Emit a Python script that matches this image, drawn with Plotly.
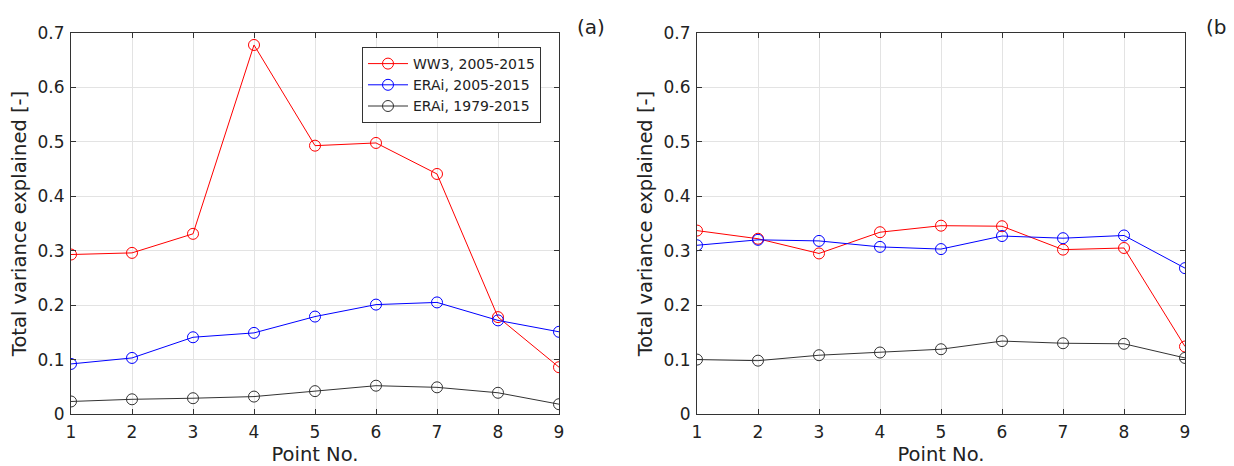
import plotly.graph_objects as go

points = [1, 2, 3, 4, 5, 6, 7, 8, 9]
series_names = ["WW3, 2005-2015", "ERAi, 2005-2015", "ERAi, 1979-2015"]
series_colors = ["#ff0000", "#0000ff", "#333333"]

a_ww3 = [0.293, 0.296, 0.331, 0.678, 0.493, 0.498, 0.441, 0.178, 0.086]
a_erai_0515 = [0.092, 0.103, 0.141, 0.149, 0.179, 0.201, 0.205, 0.172, 0.151]
a_erai_7915 = [0.023, 0.027, 0.029, 0.032, 0.042, 0.052, 0.049, 0.039, 0.018]

b_ww3 = [0.337, 0.322, 0.295, 0.334, 0.346, 0.345, 0.302, 0.305, 0.124]
b_erai_0515 = [0.310, 0.320, 0.318, 0.307, 0.303, 0.327, 0.323, 0.328, 0.268]
b_erai_7915 = [0.100, 0.098, 0.108, 0.113, 0.119, 0.134, 0.130, 0.129, 0.103]

y_ticks = [0, 0.1, 0.2, 0.3, 0.4, 0.5, 0.6, 0.7]
y_labels = ["0", "0.1", "0.2", "0.3", "0.4", "0.5", "0.6", "0.7"]

# page body has an 8px margin, so the figure is 8px smaller and positions are shifted
W, H = 1226, 458
OFF = 8

def px_x(v):
    return (v - OFF) / W

def px_y(v):
    return 1 - (v - OFF) / H

fig = go.Figure()

panels = [("x", "y", [a_ww3, a_erai_0515, a_erai_7915], True),
          ("x2", "y2", [b_ww3, b_erai_0515, b_erai_7915], False)]
for xa, ya, data, show in panels:
    for name, col, vals in zip(series_names, series_colors, data):
        fig.add_trace(go.Scatter(
            x=points, y=vals, name=name, xaxis=xa, yaxis=ya,
            mode="lines+markers", showlegend=show,
            line=dict(color=col, width=1),
            marker=dict(symbol="circle-open", size=11, color=col, line=dict(width=1)),
        ))

tickfont = dict(family="DejaVu Sans", size=17, color="#222")
titlefont = dict(family="DejaVu Sans", size=19.5, color="#222")
axis_common = dict(
    showline=True, linecolor="#333", linewidth=1, mirror="allticks",
    ticks="inside", ticklen=5, tickcolor="#333",
    showgrid=True, gridcolor="#e3e3e3", gridwidth=1,
    zeroline=False, tickfont=tickfont, automargin=False,
)
x_common = dict(range=[1, 9], tickvals=points, ticklabelstandoff=3,
                title=dict(text="Point No.", font=titlefont, standoff=8), **axis_common)
y_common = dict(range=[0, 0.7], tickvals=y_ticks, ticktext=y_labels, ticklabelstandoff=2,
                title=dict(text="Total variance explained [-]", font=titlefont, standoff=5),
                **axis_common)

y_dom = [px_y(414), px_y(33)]
fig.update_layout(
    width=W, height=H,
    margin=dict(l=0, r=0, t=0, b=0),
    paper_bgcolor="white", plot_bgcolor="white",
    xaxis=dict(domain=[px_x(71), px_x(559)], anchor="y", **x_common),
    yaxis=dict(domain=y_dom, anchor="x", **y_common),
    xaxis2=dict(domain=[px_x(697), px_x(1185)], anchor="y2", **x_common),
    yaxis2=dict(domain=y_dom, anchor="x2", **y_common),
    legend=dict(
        x=px_x(362), y=px_y(47), xanchor="left", yanchor="top",
        bgcolor="white", bordercolor="#333", borderwidth=1,
        font=dict(family="DejaVu Sans", size=14, color="#222"),
        tracegroupgap=0, itemwidth=40,
    ),
    annotations=[
        dict(text="(a)", x=px_x(591), y=px_y(27), xref="paper", yref="paper",
             xanchor="center", yanchor="middle",
             showarrow=False, font=dict(family="DejaVu Sans", size=20, color="#222")),
        dict(text="(b)", x=px_x(1220), y=px_y(27), xref="paper", yref="paper",
             xanchor="center", yanchor="middle",
             showarrow=False, font=dict(family="DejaVu Sans", size=20, color="#222")),
    ],
)

fig.write_html("out.html")
